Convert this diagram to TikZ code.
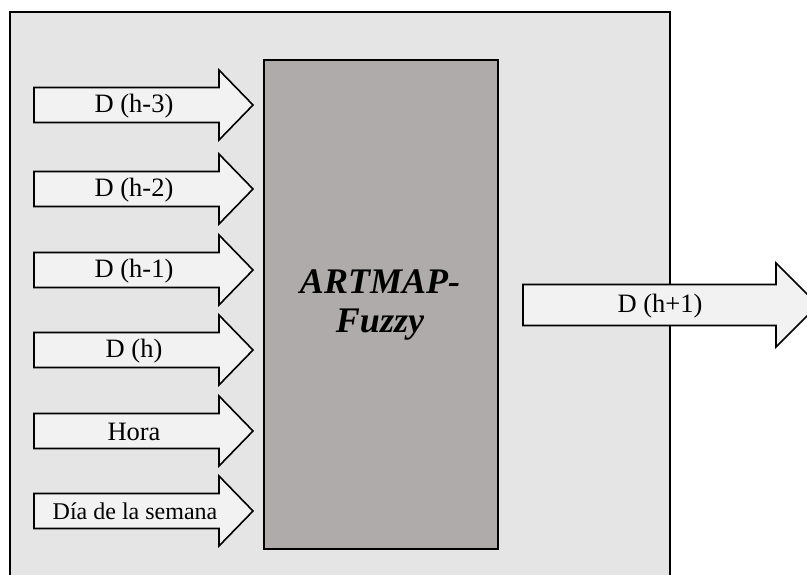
\documentclass[tikz,border=0pt]{standalone}
\usepackage{fontspec}
\setmainfont{Liberation Serif}
\definecolor{outerfill}{HTML}{E5E5E5}
\definecolor{corefill}{HTML}{AFABAB}
\definecolor{arrowfill}{HTML}{F2F2F2}
\tikzset{
  outerbox/.style={draw=black, line width=2.2pt, fill=outerfill},
  corebox/.style={draw=black, line width=1.8pt, fill=corefill},
  fatarrow/.style={draw=black, line width=1.6pt, fill=arrowfill, line join=miter},
  arrowlabel/.style={font=\fontsize{26.5}{28}\selectfont, inner sep=0pt},
  smalllabel/.style={font=\fontsize{24}{26}\selectfont, inner sep=0pt},
  corelabel/.style={font=\fontsize{36}{39}\selectfont\bfseries\itshape, align=center, inner sep=0pt}
}
\newcommand{\inputarrow}[1]{%
  \draw[fatarrow] (34,#1-17.5) -- (219,#1-17.5) -- (219,#1-35) -- (253,#1) -- (219,#1+35) -- (219,#1+17.5) -- (34,#1+17.5) -- cycle;
}
\begin{document}
\begin{tikzpicture}[x=1pt,y=-1pt]
\clip (0,0) rectangle (807,574);
\fill[white] (0,0) rectangle (807,574);
\draw[outerbox] (10,12) rectangle (670,600);
\node[corebox, minimum width=234pt, minimum height=489pt, anchor=north west, inner sep=0pt] (core) at (263,59) {};
\node[corelabel] (corelbl) at (380,305) {ARTMAP-\\Fuzzy};
% input arrows
\inputarrow{105}
\node[arrowlabel] (in1) at (134,106) {D (h-3)};
\inputarrow{189}
\node[arrowlabel] (in2) at (134,190) {D (h-2)};
\inputarrow{270}
\node[arrowlabel] (in3) at (134,271) {D (h-1)};
\inputarrow{350}
\node[arrowlabel] (in4) at (134,351) {D (h)};
\inputarrow{431}
\node[arrowlabel] (in5) at (134,432) {Hora};
\inputarrow{511}
\node[smalllabel] (in6) at (135,511) {Día de la semana};
% output arrow
\draw[fatarrow] (523,284.5) -- (776,284.5) -- (776,263) -- (818,305) -- (776,347) -- (776,325.5) -- (523,325.5) -- cycle;
\node[arrowlabel] (out) at (660,306) {D (h+1)};
\end{tikzpicture}
\end{document}
